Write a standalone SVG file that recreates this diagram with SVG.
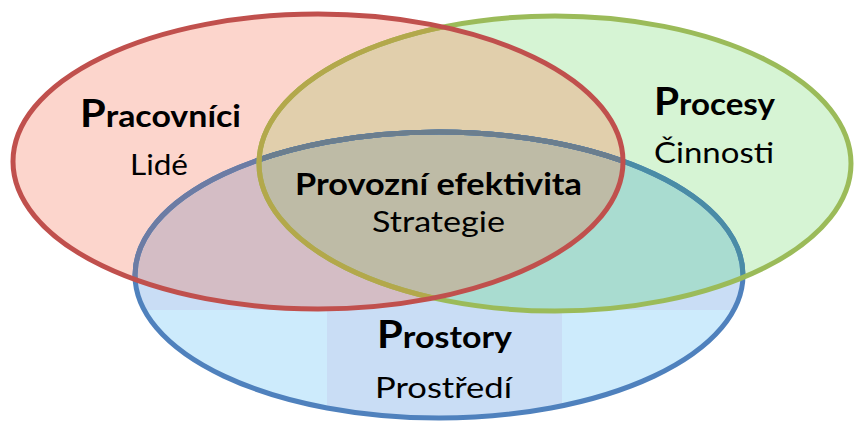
<svg xmlns="http://www.w3.org/2000/svg" width="857" height="426" viewBox="0 0 857 426">
<style>
.t{font-family:Lato,"Noto Sans","Liberation Sans",sans-serif;fill:#000}
.b{font-weight:700;font-size:31px}
.r{font-weight:400;font-size:29px}
.bigp{font-size:38px}
.o{fill:none;stroke-width:5}
</style>
<defs>
<ellipse id="eR" cx="318" cy="161.5" rx="305" ry="147.5"/>
<ellipse id="eG" cx="555" cy="163.5" rx="296" ry="147.5"/>
<ellipse id="eB" cx="439" cy="275" rx="304" ry="143"/>
<clipPath id="cR"><use href="#eR"/></clipPath>
<clipPath id="cG"><use href="#eG"/></clipPath>
<clipPath id="cB"><use href="#eB"/></clipPath>
</defs>
<g id="fills">
<use href="#eB" fill="#cdebfc"/>
<path d="M0 0H857V310H562V426H327V310H0Z" fill="#c9ddf5" clip-path="url(#cB)"/>
<use href="#eG" fill="#d6f4d4"/>
<g clip-path="url(#cG)"><use href="#eB" fill="#a9dcd0"/></g>
<use href="#eR" fill="#fcd5cc"/>
<g clip-path="url(#cR)"><use href="#eG" fill="#e1cfac"/></g>
<g clip-path="url(#cR)"><use href="#eB" fill="#d4bdc5"/></g>
<g clip-path="url(#cR)"><g clip-path="url(#cG)"><use href="#eB" fill="#bebba6"/></g></g>
</g>
<g id="node-prostory">
<use href="#eB" class="o" stroke="#4f81bd"/>
<g clip-path="url(#cG)"><use href="#eB" class="o" stroke="#4a8ca6"/></g>
<g clip-path="url(#cR)"><use href="#eB" class="o" stroke="#6c7ca4"/></g>
<g clip-path="url(#cR)"><g clip-path="url(#cG)"><use href="#eB" class="o" stroke="#6b7e8e"/></g></g>
<text class="t b" x="377" y="348" textLength="135" lengthAdjust="spacingAndGlyphs"><tspan class="bigp">P</tspan>rostory</text>
<text class="t r" x="375" y="398" textLength="137" lengthAdjust="spacingAndGlyphs">Prostředí</text>
</g>
<g id="node-procesy">
<use href="#eG" class="o" stroke="#9bbb59"/>
<g clip-path="url(#cR)"><use href="#eG" class="o" stroke="#b3a84b"/></g>
<text class="t b" x="654" y="115" textLength="121" lengthAdjust="spacingAndGlyphs"><tspan class="bigp">P</tspan>rocesy</text>
<text class="t r" x="654" y="163" textLength="120" lengthAdjust="spacingAndGlyphs">Činnosti</text>
</g>
<g id="node-pracovnici">
<use href="#eR" class="o" stroke="#c0504d"/>
<text class="t b" x="80" y="127" textLength="161" lengthAdjust="spacingAndGlyphs"><tspan class="bigp">P</tspan>racovníci</text>
<text class="t r" x="130" y="175" textLength="58" lengthAdjust="spacingAndGlyphs">Lidé</text>
</g>
<g id="node-provozni">
<text class="t b" x="295" y="195" textLength="287" lengthAdjust="spacingAndGlyphs">Provozní efektivita</text>
<text class="t r" x="372" y="232" textLength="133" lengthAdjust="spacingAndGlyphs">Strategie</text>
</g>
</svg>
